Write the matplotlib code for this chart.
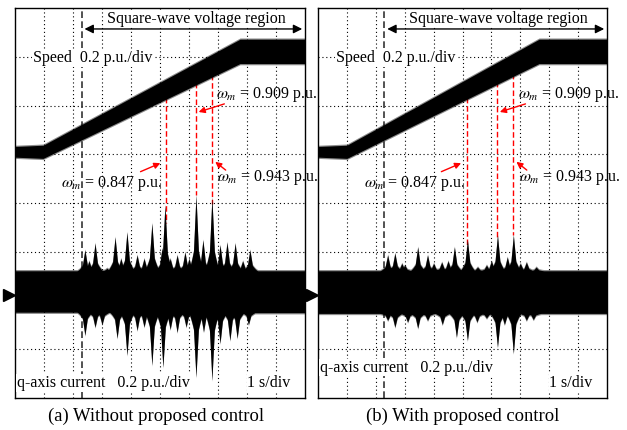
import numpy as np
import matplotlib
matplotlib.use('Agg')
import matplotlib.pyplot as plt

plt.rcParams['font.family'] = ['Liberation Serif', 'DejaVu Serif']
plt.rcParams['mathtext.fontset'] = 'stix'

# ---- data (time in s, values in p.u.) ----
speed_t_a = [0.0, 0.97, 7.76, 10.0]
speed_t_b = [0.0, 1.00, 7.65, 10.0]
speed_pu = [0.588, 0.588, 1.0, 1.0]
speed_halfband = [0.022, 0.027, 0.05, 0.05]

mark_pu = [0.847, 0.909, 0.943]
mark_t_a = [5.20, 6.24, 6.80]
mark_t_b = [5.14, 6.20, 6.76]

square_start = 2.3

# q-axis current: background band (step segments) and the burst spikes
band_edges_a = [0.0, 1.0, 2.3, 8.15, 10.0]
band_up_a = [0.066, 0.086, 0.10, 0.062]
band_lo_a = [-0.057, -0.035, -0.07, -0.072]
spk_up_t_a = [2.41, 2.55, 2.76, 3.17, 3.45, 3.65, 3.86, 4.21, 4.45, 4.72,
              5.07, 5.17, 5.35, 5.59, 5.86, 6.0, 6.24, 6.48, 6.79, 7.07,
              7.31, 7.59, 7.85, 8.10]
spk_up_a = [0.185, 0.14, 0.213, 0.11, 0.238, 0.15, 0.258, 0.164, 0.15, 0.295,
            0.193, 0.369, 0.15, 0.164, 0.176, 0.15, 0.41, 0.226, 0.40, 0.205,
            0.217, 0.213, 0.14, 0.185]
spk_lo_t_a = [2.41, 2.76, 3.0, 3.52, 3.86, 4.21, 4.45, 4.72, 5.10, 5.35,
              5.59, 5.9, 6.24, 6.5, 6.79, 7.07, 7.41, 7.66, 8.05]
spk_lo_a = [-0.164, -0.131, -0.12, -0.176, -0.246, -0.144, -0.13, -0.287, -0.295, -0.14,
            -0.152, -0.13, -0.336, -0.15, -0.349, -0.197, -0.185, -0.176, -0.12]

band_edges_b = [0.0, 1.0, 2.3, 7.7, 10.0]
band_up_b = [0.066, 0.086, 0.10, 0.07]
band_lo_b = [-0.053, -0.03, -0.075, -0.072]
spk_up_t_b = [2.41, 2.66, 2.9, 3.00, 3.45, 3.79, 4.0, 4.28, 4.5, 4.72,
              5.17, 5.52, 5.83, 6.0, 6.21, 6.55, 6.76, 7.0, 7.21, 7.55]
spk_up_b = [0.164, 0.172, 0.13, 0.123, 0.197, 0.164, 0.13, 0.135, 0.14, 0.197,
            0.226, 0.115, 0.123, 0.14, 0.246, 0.156, 0.246, 0.13, 0.135, 0.115]
spk_lo_t_b = [2.41, 2.66, 3.1, 3.45, 3.79, 4.3, 4.79, 5.17, 5.5, 5.83,
              6.21, 6.45, 6.76, 7.21, 7.45]
spk_lo_b = [-0.103, -0.131, -0.11, -0.135, -0.103, -0.12, -0.172, -0.185, -0.11, -0.094,
            -0.213, -0.12, -0.238, -0.103, -0.10]

captions = ['(a) Without proposed control', '(b) With proposed control']

# scope settings: 0.2 p.u./div, zero level (trigger marker) at 2.11 div
pu_per_div = 0.2
zero_div = 2.11


def to_div(v):
    return zero_div + np.asarray(v) / pu_per_div


def envelope(t, edges, levels, spk_t, spk_v):
    levels = np.asarray(levels)
    idx = np.clip(np.searchsorted(edges, t, side='right') - 1, 0, len(levels) - 1)
    env = levels[idx]
    for ts, v in zip(spk_t, spk_v):
        base = levels[np.clip(np.searchsorted(edges, ts, side='right') - 1, 0, len(levels) - 1)]
        dt = np.abs(t - ts)
        # broad foot + thin tip, like the scope bursts
        prof = 0.45 * np.clip(1 - dt / 0.28, 0, None) ** 1.5 + 0.55 * np.clip(1 - dt / 0.085, 0, None)
        shape = base + (v - base) * prof
        env = np.maximum(env, shape) if v > 0 else np.minimum(env, shape)
    return env


def draw_panel(ax, speed_t, mark_t, edges, up, lo, sut, su, slt, sl, qlabel_div):
    t = np.linspace(0, 10, 4001)
    fs = 11.5

    # graticule
    for x in range(1, 10):
        ax.axvline(x, color='black', lw=0.8, ls=(0, (1, 2.5)), zorder=1)
    for y in range(1, 8):
        ax.axhline(y, color='black', lw=0.8, ls=(0, (1, 2.5)), zorder=1)
    ax.axvline(square_start, color='#333333', lw=1.2, ls=(0, (4, 2)), zorder=1)

    # speed trace
    sp = np.interp(t, speed_t, speed_pu)
    hb = np.interp(t, speed_t, speed_halfband)
    ax.fill_between(t, to_div(sp - hb - 0.005), to_div(sp + hb + 0.005),
                    color='black', alpha=0.45, lw=0, zorder=3)
    ax.fill_between(t, to_div(sp - hb), to_div(sp + hb), color='black', lw=0, zorder=3)

    # q-axis current trace
    cu = envelope(t, edges, up, sut, su)
    cl = envelope(t, edges, lo, slt, sl)
    ax.fill_between(t, to_div(cl - 0.005), to_div(cu + 0.005),
                    color='black', alpha=0.45, lw=0, zorder=3)
    ax.fill_between(t, to_div(cl), to_div(cu), color='black', lw=0, zorder=3)

    # red markers from speed trace down to the current spike
    for tm in mark_t:
        ax.plot([tm, tm], [to_div(np.interp(tm, speed_t, speed_pu)), to_div(np.interp(tm, t, cu))],
                color='red', lw=1.0, ls=(0, (4, 2)), zorder=2)

    red = dict(arrowstyle='-|>', color='red', lw=1.0, mutation_scale=9)
    ax.annotate('', xy=(mark_t[1], 5.85), xytext=(mark_t[1] + 1.07, 6.05), arrowprops=red, zorder=5)
    ax.text(6.93, 6.22, r'$\omega_m$ = %.3f p.u.' % mark_pu[1], fontsize=fs, va='center',
            ha='left', zorder=6)
    ax.annotate('', xy=(mark_t[0] - 0.1, 4.84), xytext=(mark_t[0] - 0.96, 4.62), arrowprops=red, zorder=5)
    ax.text(1.6, 4.41, r'$\omega_m$ = %.3f p.u.' % mark_pu[0], fontsize=fs, va='center',
            ha='left', zorder=6)
    ax.annotate('', xy=(mark_t[2] + 0.03, 4.88), xytext=(mark_t[2] + 0.54, 4.64), arrowprops=red, zorder=5)
    ax.text(6.97, 4.53, r'$\omega_m$ = %.3f p.u.' % mark_pu[2], fontsize=fs, va='center',
            ha='left', zorder=6)

    # square-wave region arrow
    ax.annotate('', xy=(10, 7.57), xytext=(square_start, 7.57),
                arrowprops=dict(arrowstyle='<|-|>', color='black', lw=1.0, mutation_scale=13),
                zorder=5)
    ax.text(6.24, 7.78, 'Square-wave voltage region', fontsize=fs, ha='center', va='center',
            bbox=dict(facecolor='white', edgecolor='none', pad=0.5), zorder=6)

    ax.text(0.62, 6.97, 'Speed  0.2 p.u./div', fontsize=fs, ha='left', va='center',
            bbox=dict(facecolor='white', edgecolor='none', pad=0.5), zorder=6)
    ax.text(0.07, qlabel_div, 'q-axis current   0.2 p.u./div', fontsize=fs, ha='left',
            va='center', bbox=dict(facecolor='white', edgecolor='none', pad=0.5), zorder=6)
    ax.text(9.5, 0.31, '1 s/div', fontsize=fs, ha='right', va='center',
            bbox=dict(facecolor='white', edgecolor='none', pad=0.5), zorder=6)

    # trigger marker
    ax.plot([-0.2], [zero_div], marker='>', color='black', ms=8, clip_on=False, zorder=6)

    ax.set_xlim(0, 10)
    ax.set_ylim(0, 8)
    ax.set_xticks([])
    ax.set_yticks([])
    for s in ax.spines.values():
        s.set_linewidth(1.0)


fig = plt.figure(figsize=(6.27, 4.30), dpi=100)
ax_a = fig.add_axes([15 / 627, 32 / 430, 290 / 627, 390 / 430])
ax_b = fig.add_axes([318 / 627, 32 / 430, 289 / 627, 390 / 430])

draw_panel(ax_a, speed_t_a, mark_t_a, band_edges_a, band_up_a, band_lo_a,
           spk_up_t_a, spk_up_a, spk_lo_t_a, spk_lo_a, 0.31)
draw_panel(ax_b, speed_t_b, mark_t_b, band_edges_b, band_up_b, band_lo_b,
           spk_up_t_b, spk_up_b, spk_lo_t_b, spk_lo_b, 0.62)

fig.text(156 / 627, 1 - 416 / 430, captions[0], fontsize=13.4, ha='center', va='center')
fig.text(463 / 627, 1 - 416 / 430, captions[1], fontsize=13.4, ha='center', va='center')

fig.savefig('out.png', dpi=100)
